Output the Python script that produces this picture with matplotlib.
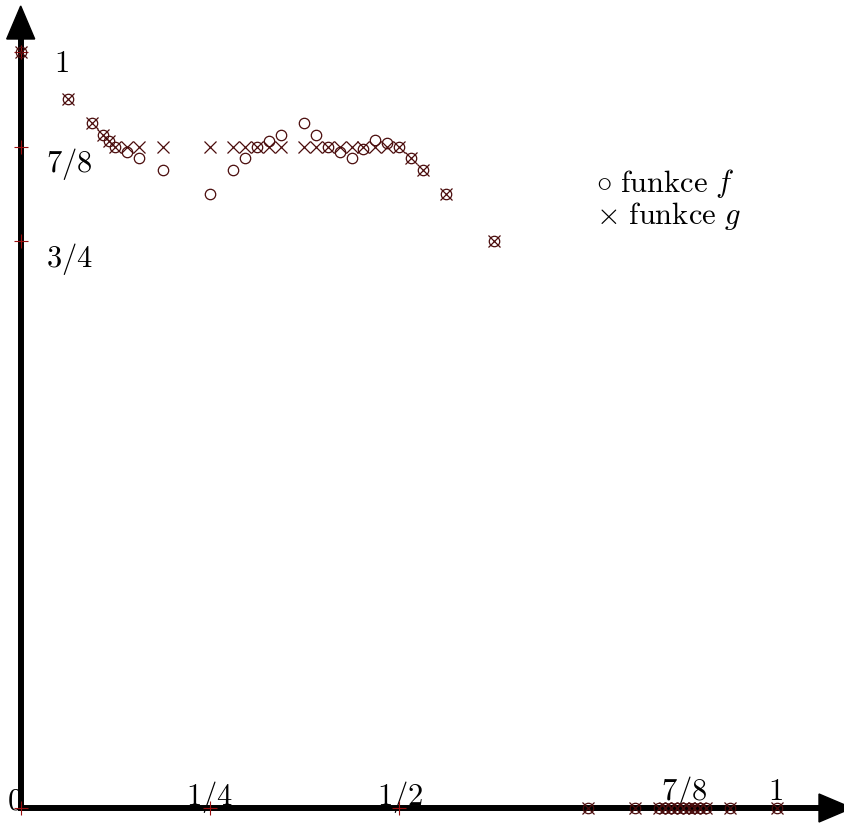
import matplotlib
matplotlib.use("Agg")
import matplotlib.pyplot as plt
from matplotlib.patches import Polygon

plt.rcParams['mathtext.fontset'] = 'cm'

# ---- data ----
x_vals = [0.0, 0.0625, 0.09375, 0.109375, 0.1171875, 0.125, 0.140625, 0.15625,
          0.1875, 0.25, 0.28125, 0.296875, 0.3125, 0.328125, 0.34375, 0.375,
          0.390625, 0.40625, 0.421875, 0.4375, 0.453125, 0.46875, 0.484375, 0.5,
          0.515625, 0.53125, 0.5625, 0.625, 0.75, 0.8125,
          0.84375, 0.8515625, 0.859375, 0.8671875, 0.875, 0.8828125, 0.890625,
          0.8984375, 0.90625, 0.9375, 1.0]
f_vals = [1.0, 0.9375, 0.90625, 0.890625, 0.8828, 0.875, 0.8672, 0.8594,
          0.84375, 0.8125, 0.84375, 0.8594, 0.875, 0.8828, 0.8906, 0.9063,
          0.8906, 0.875, 0.8672, 0.8594, 0.8713, 0.8836, 0.880, 0.875,
          0.8594, 0.84375, 0.8125, 0.75, 0.0, 0.0,
          0.0, 0.0, 0.0, 0.0, 0.0, 0.0, 0.0,
          0.0, 0.0, 0.0, 0.0]
g_vals = [1.0, 0.9375, 0.90625, 0.890625, 0.8828, 0.875, 0.875, 0.875,
          0.875, 0.875, 0.875, 0.875, 0.875, 0.875, 0.875, 0.875,
          0.875, 0.875, 0.875, 0.875, 0.875, 0.875, 0.875, 0.875,
          0.8594, 0.84375, 0.8125, 0.75, 0.0, 0.0,
          0.0, 0.0, 0.0, 0.0, 0.0, 0.0, 0.0,
          0.0, 0.0, 0.0, 0.0]

x_ticks = [0.0, 0.25, 0.5, 0.875, 1.0]
x_tick_labels = ['0', '1/4', '1/2', '7/8', '1']
y_ticks = [1.0, 0.875, 0.75]
y_tick_labels = ['1', '7/8', '3/4']

# ---- figure geometry ----
W, H = 845, 823
fig = plt.figure(figsize=(W / 100, H / 100), dpi=100)
ax = fig.add_axes([0, 0, 1, 1])
X0, XU = 20.7, 756.5   # pixel of x=0, pixels per unit
Y0, YU = 808.0, 756.0  # pixel (from top) of y=0, pixels per unit
ax.set_xlim(-X0 / XU, (W - X0) / XU)
ax.set_ylim(-(H - Y0) / YU, Y0 / YU)
ax.axis('off')

def dx(px):
    return (px - X0) / XU

def dy(py):
    return (Y0 - py) / YU

mcol = '#4a0c0c'
tcol = '#9a1010'
fs = 22

# tick labels (drawn under axis lines)
x_lab_dx = [-6, 0, 1.5, 2, -2]
x_lab_base = [809, 805, 805, 800, 800]
for xv, lab, ox, b in zip(x_ticks, x_tick_labels, x_lab_dx, x_lab_base):
    ax.text(xv + ox / XU, dy(b), r'$\mathrm{%s}$' % lab, fontsize=fs, ha='center',
            va='baseline', zorder=1)
y_lab_x = [61, 69.5, 69.5]
y_lab_base = [71.7, 171.7, 267]
for yv, lab, lx, b in zip(y_ticks, y_tick_labels, y_lab_x, y_lab_base):
    ax.text(dx(lx), dy(b), r'$\mathrm{%s}$' % lab, fontsize=fs, ha='center',
            va='baseline', zorder=1)

# axes with arrows
lw_ax = 4.3
ax.plot([0, 0], [0, dy(36)], color='k', lw=lw_ax, solid_capstyle='butt', zorder=2)
ax.plot([dx(X0 - 3), dx(822)], [0, 0], color='k', lw=lw_ax, solid_capstyle='butt', zorder=2)
ax.add_patch(Polygon([(dx(X0 - 14), dy(39)), (dx(X0 + 14), dy(39)), (0, dy(6))],
                     closed=True, color='k', zorder=2))
ax.add_patch(Polygon([(dx(819), dy(Y0 - 14)), (dx(819), dy(Y0 + 14)), (dx(852), 0)],
                     closed=True, color='k', zorder=2))

# tick marks
ax.plot(x_ticks[:3], [0] * 3, linestyle='none', marker='+', ms=10, mew=0.8,
        color=tcol, zorder=3)
ax.plot([0] * len(y_ticks), y_ticks, linestyle='none', marker='+', ms=10, mew=0.8,
        color=tcol, zorder=3)

# data points
ax.plot(x_vals, f_vals, linestyle='none', marker='o', ms=7.5, mfc='none',
        mec=mcol, mew=0.9, zorder=4, clip_on=False)
ax.plot(x_vals, g_vals, linestyle='none', marker='x', ms=8, mec=mcol,
        mew=0.9, zorder=4, clip_on=False)

# legend text
ax.text(dx(596), dy(192), r'$\circ\ \mathrm{funkce}\ f$', fontsize=fs,
        ha='left', va='baseline')
ax.text(dx(596), dy(224), r'$\times\ \mathrm{funkce}\ g$', fontsize=fs,
        ha='left', va='baseline')

fig.savefig('out.png', dpi=100)
